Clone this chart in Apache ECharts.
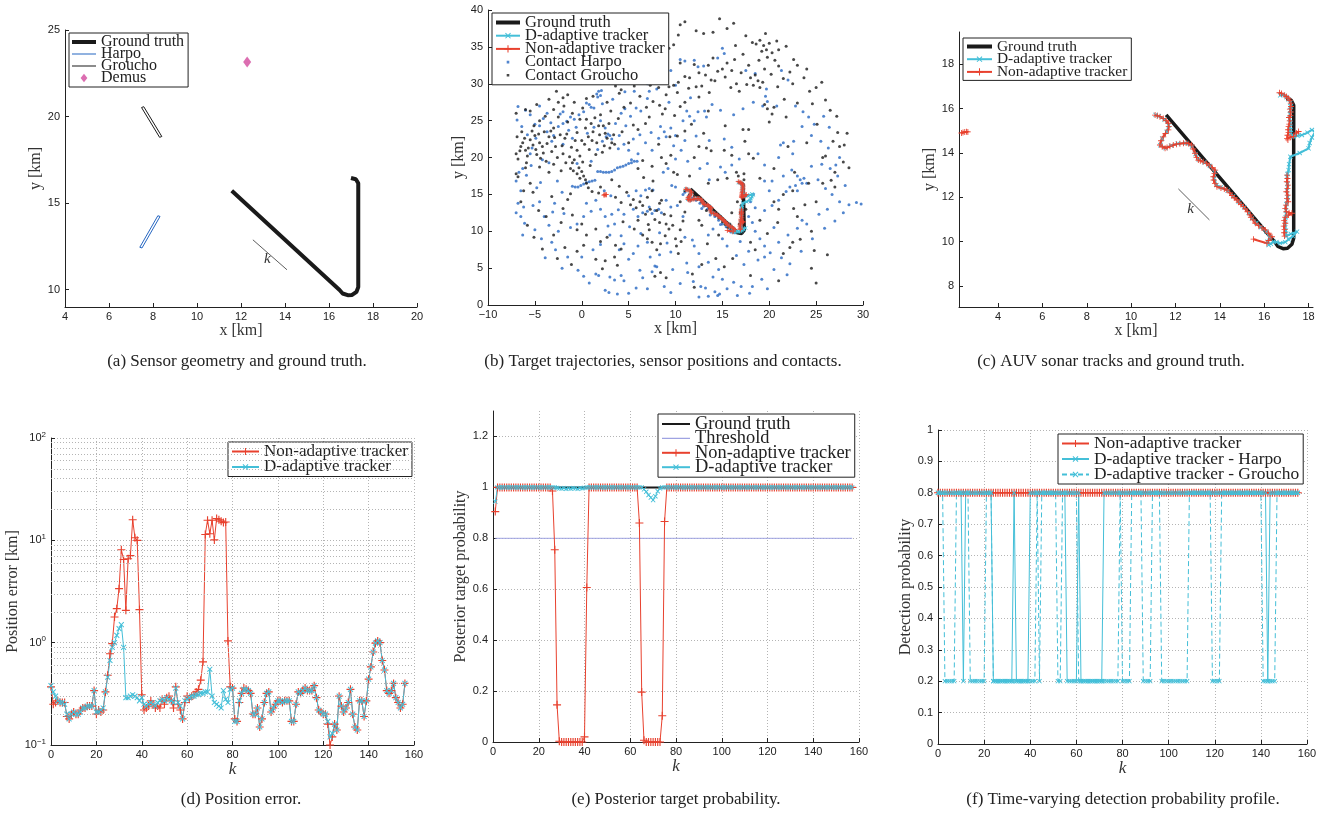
<!DOCTYPE html>
<html><head><meta charset="utf-8">
<script src="https://cdn.jsdelivr.net/npm/echarts@6/dist/echarts.min.js"></script>
<style>html,body{margin:0;padding:0;background:#fff}#c{width:1325px;height:815px}</style>
</head><body><div id="c"></div>
<script>
// ---------------- DATA ----------------
const captions = ['(a) Sensor geometry and ground truth.','(b) Target trajectories, sensor positions and contacts.','(c) AUV sonar tracks and ground truth.','(d) Position error.','(e) Posterior target probability.','(f) Time-varying detection probability profile.'];
const groundTruthTrack = [[17.0,16.45],[17.22,16.38],[17.33,16.15],[17.33,10.15],[17.25,9.88],[17.05,9.7],[16.85,9.68],[16.62,9.78],[16.48,9.98],[11.58,15.72]];
const harpoPath = [[7.4,12.45],[8.22,14.27],[8.32,14.23],[7.5,12.41],[7.4,12.45]];
const grouchoPath = [[7.48,20.52],[8.3,18.8],[8.4,18.85],[7.58,20.57],[7.48,20.52]];
const demusPos = [[12.28,23.15]];
const arrowA = [[14.09,11.15],[12.54,12.88]];
const kLabelA = [13.2,11.75];
const arrowC = [[13.53,10.98],[12.13,12.38]];
const kLabelC = [12.68,11.45];
const daTrack = [[16.72,16.6],[16.85,16.62],[17.0,16.52],[17.1,16.42],[17.18,16.28],[17.2,16.1],[17.18,15.94],[17.16,15.75],[17.15,15.55],[17.18,15.35],[17.16,15.18],[17.18,15.04],[17.2,14.9],[17.32,14.73],[17.5,14.78],[17.7,14.81],[17.95,14.92],[18.15,15.04],[18.3,14.96],[18.15,14.7],[18.05,14.45],[18.0,14.21],[17.6,14.0],[17.18,13.83],[17.12,13.5],[17.1,13.23],[17.05,13.05],[17.03,12.93],[17.05,12.6],[17.03,12.3],[17.06,12.0],[17.0,11.7],[16.98,11.4],[16.97,11.1],[16.95,10.8],[16.98,10.5],[17.0,10.25],[17.2,10.35],[17.48,10.45],[17.3,10.25],[17.1,10.1],[16.95,9.98],[16.72,9.93],[16.55,9.98],[16.42,10.0],[16.3,9.9],[16.2,9.85],[16.15,10.0],[16.25,10.2],[16.1,10.45],[15.85,10.65],[15.65,10.85],[15.45,11.05],[15.3,11.3],[15.1,11.55],[14.85,11.8],[14.6,12.05],[14.35,12.3],[14.05,12.45],[13.85,12.55],[13.75,12.85],[13.78,13.15],[13.55,13.42],[13.3,13.58],[13.05,13.7],[12.9,13.95],[12.75,14.3],[12.45,14.45],[12.1,14.42],[11.8,14.33],[11.55,14.22],[11.32,14.35],[11.4,14.65],[11.6,14.95],[11.7,15.25],[11.5,15.52],[11.25,15.66],[11.1,15.72]];
const naSeg1 = [[16.69,16.72],[16.78,16.68],[16.9,16.62],[17.0,16.55],[17.08,16.47],[17.15,16.38],[17.2,16.25],[17.21,16.1],[17.16,15.98],[17.2,15.85],[17.18,15.7],[17.12,15.6],[17.15,15.45],[17.13,15.3],[17.1,15.19],[17.08,15.05],[17.1,14.92],[17.05,14.8],[17.03,14.65],[17.07,14.59],[17.2,14.72],[17.32,14.75],[17.45,14.9],[17.55,14.97]];
const naSeg2 = [[17.03,13.0],[17.05,12.85],[17.02,12.7],[17.07,12.55],[17.05,12.4],[17.0,12.25],[17.06,12.1],[17.03,11.95],[17.08,11.8],[16.98,11.65],[16.95,11.5],[17.0,11.35],[17.12,11.3],[17.25,11.28],[17.1,11.2],[16.95,11.1],[16.9,10.95],[16.95,10.83],[16.88,10.7],[16.92,10.55],[16.9,10.4],[16.92,10.25]];
const naSeg3 = [[15.52,10.11],[16.12,9.93],[16.2,10.05],[16.35,10.22],[16.2,10.38],[16.05,10.53],[15.9,10.62],[15.75,10.72],[15.6,10.83],[15.5,10.98],[15.4,11.1],[15.37,11.2],[15.25,11.35],[15.15,11.48],[15.07,11.58],[14.95,11.68],[14.85,11.78],[14.77,11.88],[14.65,11.98],[14.55,12.08],[14.45,12.2],[14.32,12.33],[14.2,12.38],[14.05,12.42],[13.87,12.48],[13.78,12.62],[13.72,12.78],[13.71,12.93],[13.76,13.08],[13.79,13.23],[13.65,13.35],[13.52,13.45],[13.41,13.53],[13.25,13.6],[13.12,13.65],[13.03,13.68],[12.95,13.8],[12.88,13.99],[12.8,14.18],[12.73,14.36],[12.6,14.42],[12.48,14.45],[12.36,14.44],[12.2,14.42],[12.05,14.4],[11.9,14.36],[11.75,14.3],[11.62,14.25],[11.53,14.21],[11.4,14.28],[11.3,14.36],[11.35,14.55],[11.45,14.73],[11.55,14.88],[11.68,15.04],[11.7,15.2],[11.68,15.34],[11.58,15.46],[11.45,15.56],[11.3,15.64],[11.18,15.68],[11.08,15.71]];
const naSeg4 = [[2.35,14.9],[2.42,14.92],[2.5,14.95],[2.58,14.96],[2.64,14.95]];
const contactGroucho = [[9.3,29.6],[9.8,29.8],[10.3,30.2],[10.5,32.8],[11,31],[11.5,30.8],[12,32.6],[12.5,31.5],[12.2,29.6],[12.8,29.7],[13.2,31.2],[13.5,32.5],[13.8,30.5],[14,33.5],[14.5,31.7],[15,32],[15.3,30.9],[15.5,32.8],[16,31.8],[16.3,33.3],[16.5,30],[17,31.5],[17.2,34],[17.8,32.5],[18,30.8],[18.3,29.8],[18.5,31.2],[18.8,30.4],[19,29.5],[19.3,30.2],[19.5,32],[18.2,35.6],[18.6,35.4],[19,35.9],[19.4,35.2],[19.7,34.6],[20,35.5],[20.3,34.2],[19.8,33.6],[20.6,33.2],[21,34.6],[21,32.4],[21.5,30.7],[22.5,30],[23,32.5],[24,32],[25,29.5],[25.6,30.2],[24.3,29],[26.5,26.4],[27.2,25.6],[19.5,27.2],[19.8,26.6],[20.3,25.9],[20.5,26.8],[14.7,38.8],[15.5,37.5],[16.2,38.2],[14,37],[13,36.8],[12.2,37.2],[10.5,38],[11,38.4],[10.3,36.6],[9.3,34.8],[9.8,35.3],[8.5,33.4],[8.8,32],[7.8,32.2],[7,31.5],[6.5,32],[6,31.2],[8,30.5],[7.3,29.8],[8.2,29.5],[9,28.5],[10.2,28.8],[11,27.5],[5.6,29.7],[3.6,29.7],[4,28.7],[4.2,29.2],[3.2,30.8],[2,30.2],[13.5,26.3],[15.3,24.3],[17.2,23.8],[17.4,22.2],[16.7,17.5],[17.3,17.8],[18.3,19.9],[12.5,21.5],[13.8,20.9],[13.3,21.3],[15.2,21],[16,20.3],[-7,20.5],[-6.8,19.8],[-6.5,21.5],[-6.3,22],[-6,21],[-5.8,20.2],[-5.5,22.4],[-5.2,21.7],[-5,23],[-4.8,20.4],[-4.5,22],[-4.2,21.5],[-4,23.5],[-3.8,19.5],[-3.5,22.8],[-3.2,20.8],[-3,24],[-2.8,21.5],[-2.5,25.5],[-2.3,23.1],[-2,20.5],[-1.8,22.6],[-1.5,24.8],[-1.3,20.1],[-1,19.3],[-0.8,19.7],[-0.5,21],[-0.3,18.6],[0,18.1],[0.2,17.5],[0.4,17],[0.5,16.5],[-0.5,17.8],[-1.2,18.5],[-1.7,19.3],[-2.2,18.2],[-3.5,18],[-4.5,18.7],[-6,18.6],[-7,17.8],[-6.8,17.4],[-5.5,16.5],[-5.2,15.3],[-6.5,14],[-6.2,15.5],[-4.5,25],[-5.5,26.3],[-4.8,27.2],[-3.5,27.9],[-3,26.5],[-2,28.1],[-2.5,27.5],[-1,26],[0.5,25.2],[1,24.6],[1.2,23.5],[1.6,22],[1.8,24.3],[2,25.8],[2.3,24.3],[2.5,23.3],[2.7,22.6],[3,21.3],[3.2,22],[3.5,21.8],[2.2,20.7],[1.5,20.4],[0.8,21.1],[0,22.3],[-0.5,23.4],[-0.2,25.2],[0.4,24],[3.9,25.3],[4.3,23.5],[5,22],[5.5,24.4],[6,23.8],[6.8,24.6],[7.2,25.5],[7.6,27.6],[8.3,27.1],[8.6,25.9],[4.5,26.8],[3.1,26.3],[2.7,27.5],[1.2,28.3],[0.5,28],[-1.5,28.5],[-2.7,29],[-6,26.5],[-7,26],[5.5,14.3],[5.8,13.2],[6.2,14],[6.5,13.5],[7,14.6],[7.5,15.5],[7.3,13],[8,12.8],[8.3,13.8],[8.5,14.2],[8.8,12.3],[7.6,16.8],[6.6,17.3],[6,18.5],[6.5,19.6],[7.5,18.8],[8.5,20],[9,19.2],[9.5,20.3],[8.2,21.8],[9.8,18],[10.2,17.7],[4.8,15.3],[4.2,13.9],[3.6,14.6],[4,16.1],[3.2,17],[2,16],[1.8,15.2],[-1.5,14.3],[-2,13.1],[-1,12.2],[-0.5,10.2],[0,11],[0.5,9.5],[0.2,8.1],[-0.5,7.3],[-1.8,7.8],[-3,9.5],[-2.2,11.2],[-3.8,12],[1.5,10.3],[2,8.6],[2.7,9.2],[3.6,8.1],[4.2,7.6],[3.5,6.5],[2.5,6],[1.5,6.2],[6.5,9.5],[7,9],[7.2,10.2],[7.5,8.5],[8,7.5],[8.4,8.3],[9.3,10.3],[9.7,10.8],[10,9],[10.3,7],[10.1,8],[10.5,10.2],[9,11],[6,11.5],[5.6,10.3],[4.4,11.3],[8.4,4.4],[9,3.7],[7.8,3.9],[12.5,11.5],[12.8,10.8],[13.4,8.3],[12.8,5.5],[14.3,6.3],[14.6,9.5],[16,12.5],[17.5,13],[18,8.5],[18.5,7.5],[19,11.5],[20.5,14],[21.5,15],[22.5,15.5],[21,13],[24.5,10],[23,12],[22.5,8.5],[21.5,7],[22.2,7.8],[24.2,16.5],[25,14],[25.7,16.5],[26,20.2],[27,18],[27,16],[27.5,21.5],[28,21.7],[28.3,23.3],[25.7,20],[25.1,24.5],[24,22],[22.7,18],[22,21.5],[20.5,18.5],[19,17.2],[17.8,20.5],[20,24.8],[21.8,25.5],[17.8,23.8],[13,23.3],[11.7,24.5],[11,23.6],[10.2,22.9],[9.4,22.8],[12,20],[11.5,17.5],[13.5,16.5],[14.5,17],[15.5,17.2],[16.5,18],[17.3,17],[10.5,14],[11,12.6],[24.5,5],[25,3],[21,3.3],[18,4],[12,2.4],[11,15.5],[11.5,15],[12,14.8],[12.3,14.3],[12.8,14],[13.2,13.5],[13.6,13.2],[14,12.6],[14.3,12.2],[14.6,11.8],[15,11.3],[15.3,10.9],[15.6,10.5],[16,10.2],[16.5,10],[17,10.5],[17,11.5],[16.9,12.5],[17,13.5],[17.1,14.5],[17.2,15.5],[17.1,16.3],[12.5,14.7],[13.3,12.8],[14.8,12],[15.8,11],[16.8,11],[16.6,14],
[-6.6,20.9],[-6.1,22.6],[-5.7,21.3],[-5.3,23.6],[-4.9,21.1],[-4.6,23.2],[-4.1,20.6],[-3.7,21.9],[-3.3,23.6],[-2.9,22.7],[-2.6,20],[-2.1,21.6],[-1.6,23.2],[-1.1,21.4],[-0.7,22.3],[-0.2,20.2],[0.3,21.8],[0.7,22.8],[1.1,22.3],[1.9,23.1],[2.4,21.6],[2.9,24.6],[3.4,23.1],[-1.9,27],[-0.8,27.5],[0.1,26.7],[1.4,25.4],[-3.9,25.6],[-5.1,24.3],[-6.4,23.5],[-6.9,22.8],[-5.9,19.3],[-4.4,19.9],[-3,19.1],[-0.9,18.2],[0.1,19.4],[0.9,18.9],[-0.2,17.2],[0.7,15.9],[1.1,15.4],[5.2,13.6],[6.8,12.3],[7.8,11.6],[8.3,11.2],[9.5,12.1],[7.1,10.9],[8.9,9.4],[10.6,8.6],[10.8,11.4],[6.2,28.3],[5.2,27.4],[6.9,26.8],[8.9,26.6],[9.9,25.7],[10.5,26.9],[12.5,28.2],[11.4,29.4],[13.6,28.8],[14.2,30.4],[15.9,29.5],[16.8,29],[17.6,29.9],[16.4,35.2],[17.5,36.5],[19.6,36.8],[20.8,35.8],[21.8,35.1],[22.6,33.3],[22.2,31.6],[23.7,30.8],[20.2,31.3],[18.9,33.2],[19.2,34.4],[20.9,29.6],[21.6,27.9],[23,27.4],[24.6,27.3],[26,27.8],[27.3,23.4],[26.8,22.2],[27.9,19.4],[28.5,18.6],[26.6,16.9],[23.8,13.6],[22.6,13.1],[20.9,11.2],[19.8,9.7],[23.3,8.9],[24.8,7.4],[26.2,6.8],[16.1,6.3],[15.2,5.2],[11.8,4.2],[3.8,5.4],[2.2,4.9],[-1.1,5.5],[-2.6,6.3],[-4.2,7.6],[-5.1,9.2],[-5.8,10.8],[-4.6,12.8],[-3.2,14.7],[-1.2,15.1]];
const contactHarpo = [[-7,12.5],[-6.5,12],[-6.8,13.8],[-6.2,13.3],[-6.5,15.5],[-7,16.8],[-6.7,18],[-6.3,18.5],[-6.8,26.9],[-6,26.4],[-5.5,25.8],[-5,24.5],[-4.5,24.3],[-3.7,23.5],[-3,23],[-2.5,24.2],[-2,24.6],[-1.6,24.9],[-1.2,25.5],[-0.8,25.2],[-0.3,25.8],[0.2,26.2],[0.5,27.4],[0.8,27.2],[1,26.8],[1.3,26.7],[1.6,28.6],[1.7,28.2],[1.8,29],[2,28.4],[2.1,29.1],[-3.7,26],[-4.5,27],[-2,26.2],[-5.3,21.3],[-5.5,20.5],[-4.2,19.7],[-3.5,19.3],[-3.2,22.2],[-2,21.8],[-1,22.6],[-0.5,19.2],[1.7,21.1],[1,19.5],[2.2,22.2],[2.6,22.8],[2.8,23.2],[2.5,24],[3,23],[3.2,22.5],[4,23],[4.5,21.8],[5,21],[5.5,22.5],[4.2,26],[4.6,26.6],[5.8,26.7],[6.3,26.3],[7,28],[8.4,24.2],[8.8,23.5],[9,22.8],[9.5,24],[10,23],[10.8,25],[11.2,26.3],[11.5,25.6],[12,25],[12.4,26.2],[13.1,26.3],[13.3,25.5],[9.3,27.5],[8,29.3],[7,30],[6.5,31.5],[7.2,29],[8.8,31.3],[9.5,31.8],[10.5,33.3],[11,33.1],[12,33.2],[12.4,32.3],[13,32.4],[14.5,33.5],[15,34.8],[15.2,34.1],[17.5,31.8],[18.5,31.4],[19.6,28.3],[19.7,29.3],[19.8,27.6],[19.3,27],[21.3,31.8],[22,30.5],[24.2,25.5],[24.8,24.5],[25.5,22.2],[24.5,23],[23.5,24.2],[22.6,22.2],[22.5,20.5],[21.5,22],[21.2,21.7],[21,20],[19.5,19],[18.8,20.5],[19.5,16.8],[20.3,16.8],[21.5,17.5],[22.4,18.3],[23,17.5],[23.3,17],[23.7,17.2],[23.5,16.5],[22.8,16.2],[22.2,16],[21.8,15.4],[23,15.5],[24,16.5],[24.5,18.8],[25.2,17],[26,15.8],[26.7,15],[27.5,14],[28.5,13.6],[29.3,13.9],[29.8,13.7],[27.3,17.5],[27.5,20],[26.5,18.5],[26.2,13],[25.3,12.3],[23.5,11.5],[24,11],[23,10.4],[22,9.5],[21,8.5],[20.5,10.5],[19.5,8],[19,9],[18.5,10],[18.2,11.2],[19.5,12.8],[20.3,13.5],[21,14.2],[20,15.5],[18.3,15],[18,14],[18.5,13.2],[17.8,12],[16.5,6.7],[17.3,5.5],[19.5,6.5],[20.5,4.8],[19.2,3.5],[18.2,2.5],[17,2.5],[15.5,2.2],[14.5,1.3],[14.7,1.5],[14.2,1.8],[13.5,1.2],[13.2,2.3],[12.7,2.5],[12.5,1.1],[15,3.5],[14,3.8],[14.6,4.8],[13.5,5.8],[12.5,5.2],[11.3,4.4],[11.2,5.7],[9.7,4.8],[9.5,1.7],[8.8,2.5],[7.8,5.3],[8,5.2],[7.5,4.5],[6.5,3.7],[6.2,4.7],[5.8,2.3],[4.5,3.3],[4.2,4],[3.8,1.5],[3.5,3.4],[3,3.8],[2.5,2],[1.8,4],[1.5,4.2],[0.2,3.9],[4,7.5],[4.5,8.3],[5,6.2],[5.5,7],[6,8],[7,8.5],[7.3,6.5],[8.3,6.8],[9.5,7.2],[11,9.2],[11.8,8.8],[12,8],[12.5,7],[13.5,9.5],[14,10.3],[15,9],[15.5,8],[3,9.5],[2.8,10.7],[3.5,11],[3.2,12.3],[2.5,12],[2,13],[1.5,14.2],[0.5,13.8],[0.2,12],[-0.5,11],[-1.2,10.5],[-2.5,10],[-3.5,10.8],[-4,12],[-4.5,14],[-5.2,13.5],[-5,10.2],[-3.2,8.5],[-2.8,7.5],[-1.5,6.5],[0,6.5],[1.2,7.5],[2,8.2],[4.2,9.4],[6,12],[6.5,12.5],[7,12.7],[7.5,12.4],[7.8,12.8],[8.2,13],[8.5,12.5],[7.2,13.3],[6.8,15.6],[7.2,15.8],[7.6,15.6],[6.3,14.8],[5.8,15.5],[5,14.8],[4.5,12.3],[5.5,13],[9,14.2],[9.5,13.3],[10.2,13.5],[10.8,12],[10,16],[9.6,16.2],[9.2,18.5],[8.7,18],[11.3,19.5],[12.6,18.5],[13.6,17],[13.4,19.2],[14.8,18.7],[15.3,18],[16,19],[16.8,19.8],[16,21.4],[15.2,22.5],[13.6,22.3],[10.6,21],[10,19.8],[7.5,21],[6.8,22],[6,20.5],[5.3,19.7],[-1,16.1],[-0.7,16],[-0.4,16],[-0.1,16.2],[0.2,16.4],[0.5,16.6],[0.8,16.7],[1.1,16.8],[1.4,16.9],[1.7,18.1],[2,18.1],[2.3,18],[2.6,18],[2.9,18],[3.2,18.1],[3.5,18.3],[3.8,18.6],[4.1,18.7],[4.4,18.8],[4.7,19],[5,19.2],[5.3,19.3],[5.6,19.5],[5.9,19.5],[11,15.3],[11.4,14.8],[11.8,14.5],[12.2,14.2],[12.6,13.8],[13,13.4],[13.4,13],[13.8,12.5],[14.2,12],[14.6,11.5],[15,11],[15.4,10.6],[15.8,10.2],[16.2,10],[16.6,9.9],[17,10.2],[17.1,11],[17.2,12],[17.1,13],[17.2,14],[17.3,15],[17.2,16],[10.8,15],[11.6,14.2],[12.8,13.1],[13.7,12.2],[14.8,10.9],[16.3,9.8],
[-6.9,25.1],[-6.4,24.2],[-5.8,23.1],[-4.9,22.6],[-4.1,25.3],[-3.3,24.7],[-2.3,25.9],[-1.4,23.7],[-0.6,24.1],[0.6,23.3],[1.3,24.1],[2,25],[3.6,24.6],[3.9,21.2],[4.7,24.3],[5.2,25.6],[6.2,23.1],[7.4,23.4],[8.2,22.6],[9.8,21.6],[11,22.3],[12.2,22.9],[2.2,27.3],[3.3,27.9],[4.6,28.9],[5.6,29],[6.1,30.5],[10,29.8],[11.6,28.1],[13.9,27.2],[14.8,26.4],[16.2,25.8],[17.2,26.6],[18.3,27.5],[20.8,27],[22.8,27],[23.6,26.2],[25.8,25.6],[26.4,24.1],[26.3,21.3],[25.6,19.1],[27.1,19],[28.1,16.2],[27.9,12.5],[27,11.4],[25.9,10.4],[24.6,9],[23.4,7.3],[22.2,5.6],[21.3,6.4],[20.1,7.1],[18.8,6.1],[17.8,7.3],[16.9,8.6],[15.9,9.9],[9.1,8.4],[8.3,9.8],[6.3,9.7],[5.1,10.6],[3.9,12.9],[3.1,14.8],[2.4,15.5],[1,12.7],[-1.9,12.4],[-3.1,12.6],[-4.8,15.9],[-5.9,17.6],[-5.4,18.9],[-4.4,16.6],[-2.6,16.8],[-2.1,15.3],[-2.9,13.8],[-6.1,11.1],[-6.3,9.5],[-4.3,9],[-3.9,6.4],[-2.1,5],[-0.4,4.7],[0.8,3],[2.9,1.7],[5,1.6],[7,2.2],[10.5,2.9],[11.9,3.2],[16.2,3.1],[17.9,1.6],[16.6,1.3],[19.8,2.2],[21.9,4.1]];
// (d) position error, k = 0..156
const errNonAdaptive = [0.37,0.25,0.26,0.27,0.26,0.26,0.26,0.19,0.18,0.2,0.21,0.2,0.2,0.22,0.23,0.23,0.24,0.24,0.24,0.34,0.2,0.22,0.21,0.22,0.33,0.48,0.78,0.98,1.78,2.15,3.37,8.1,6.5,2.07,6.6,7.1,15.9,10.6,10.0,2.1,0.31,0.22,0.23,0.24,0.27,0.25,0.23,0.24,0.23,0.28,0.25,0.29,0.3,0.27,0.23,0.37,0.25,0.22,0.18,0.26,0.3,0.28,0.3,0.31,0.33,0.35,0.43,0.65,11.4,15.7,11.6,15.7,10.1,16.3,15.9,15.4,14.9,15.1,1.04,0.37,0.36,0.18,0.17,0.26,0.32,0.36,0.35,0.34,0.32,0.2,0.2,0.23,0.15,0.18,0.26,0.32,0.33,0.21,0.23,0.25,0.27,0.27,0.26,0.27,0.27,0.27,0.17,0.17,0.25,0.33,0.32,0.34,0.36,0.34,0.34,0.34,0.38,0.29,0.22,0.21,0.2,0.2,0.16,0.1,0.12,0.16,0.14,0.3,0.24,0.21,0.23,0.26,0.35,0.2,0.15,0.14,0.27,0.27,0.19,0.27,0.44,0.58,0.81,0.99,1.04,1.0,0.67,0.54,0.34,0.32,0.34,0.4,0.29,0.26,0.23,0.25,0.4];
const errDAdaptive = [0.38,0.33,0.3,0.27,0.26,0.26,0.25,0.2,0.18,0.2,0.21,0.2,0.2,0.21,0.23,0.23,0.24,0.24,0.24,0.34,0.21,0.21,0.22,0.23,0.33,0.46,0.67,0.9,1.0,1.18,1.37,1.5,0.9,0.29,0.29,0.3,0.31,0.3,0.29,0.27,0.29,0.25,0.24,0.25,0.26,0.25,0.24,0.26,0.27,0.28,0.27,0.29,0.28,0.27,0.26,0.36,0.26,0.24,0.18,0.27,0.28,0.29,0.3,0.3,0.31,0.31,0.32,0.32,0.33,0.33,0.55,0.3,0.26,0.25,0.24,0.23,0.34,0.28,0.26,0.35,0.36,0.17,0.17,0.27,0.32,0.35,0.35,0.34,0.32,0.2,0.2,0.23,0.15,0.18,0.26,0.32,0.33,0.21,0.23,0.25,0.27,0.27,0.26,0.27,0.27,0.27,0.17,0.17,0.25,0.33,0.32,0.34,0.36,0.34,0.34,0.34,0.38,0.29,0.22,0.21,0.2,0.2,0.17,0.12,0.13,0.16,0.14,0.3,0.24,0.21,0.23,0.26,0.35,0.2,0.15,0.14,0.27,0.27,0.19,0.27,0.44,0.58,0.81,0.99,1.04,1.0,0.67,0.54,0.34,0.32,0.34,0.4,0.29,0.26,0.23,0.25,0.4];
const logMinorGrid = [0.2,0.3,0.4,0.5,0.6,0.7,0.8,0.9,2,3,4,5,6,7,8,9,20,30,40,50,60,70,80,90];
// (e) posterior target probability, k = 1..157
const probNonAdaptive = [0.905,1,1,1,1,1,1,1,1,1, 1,1,1,1,1,1,1,1,1,1, 1,1,1,1,1,0.986,0.755,0.146,0.003,0, 0,0,0,0,0,0,0,0,0,0.02, 0.607,1,1,1,1,1,1,1,1,1, 1,1,1,1,1,1,1,1,1,1, 1,1,1,0.86,0.196,0.007,0,0,0,0, 0,0,0,0.103,0.866,1,1,1,1,1, 1,1,1,1,1,1,1,1,1,1, 1,1,1,1,1,1,1,1,1,1, 1,1,1,1,1,1,1,1,1,1, 1,1,1,1,1,1,1,1,1,1, 1,1,1,1,1,1,1,1,1,1, 1,1,1,1,1,1,1,1,1,1, 1,1,1,1,1,1,1,1,1,1, 1,1,1,1,1,1,1];
const probDAdaptive = [0.944,1,1,1,1,1,1,1,1,1, 1,1,1,1,1,1,1,1,1,1, 1,1,1,1,1,1,1,0.998,0.996,0.995, 0.997,0.994,0.996,0.995,0.997,0.996,0.994,0.997,0.996,0.998, 1,1,1,1,1,1,1,1,1,1, 1,1,1,1,1,1,1,1,1,1, 1,1,1,1,1,0.992,0.983,0.97,0.96,0.95, 0.965,0.985,0.996,1,1,1,1,1,1,1, 1,1,1,1,1,1,1,1,1,1, 1,1,1,1,1,1,1,1,1,1, 1,1,1,1,1,1,1,1,1,1, 1,1,1,1,1,1,1,1,1,1, 1,1,1,1,1,1,1,1,1,1, 1,1,1,1,1,1,1,1,1,1, 1,1,1,1,1,1,1,1,1,1, 1,1,1,1,1,1,1];
const probGroundTruthK = [1,157], probGroundTruth = [1,1];
const thresholdK = [1,157], threshold = [0.8,0.8];
// (f) detection probability, k = 0..156
const detNonAdaptive = [.8,.8,.8,.8,.8,.8,.8,.8,.8,.8, .8,.8,.8,.8,.8,.8,.8,.8,.8,.8, .8,.8,.8,.8,.8,.8,.8,.8,.8,.8, .8,.8,.8,.8,.8,.8,.8,.8,.8,.8, .8,.8,.8,.8,.8,.8,.8,.8,.8,.8, .8,.8,.8,.8,.8,.8,.8,.8,.8,.8, .8,.8,.8,.8,.8,.8,.8,.8,.8,.8, .8,.8,.8,.8,.8,.8,.8,.8,.8,.8, .8,.8,.8,.8,.8,.8,.8,.8,.8,.8, .8,.8,.8,.8,.8,.8,.8,.8,.8,.8, .8,.8,.8,.8,.8,.8,.8,.8,.8,.8, .8,.8,.8,.8,.8,.8,.8,.8,.8,.8, .8,.8,.8,.8,.8,.8,.8,.8,.8,.8, .8,.8,.8,.8,.8,.8,.8,.8,.8,.8, .8,.8,.8,.8,.8,.8,.8,.8,.8,.8, .8,.8,.8,.8,.8,.8,.8];
const detHarpo = [.8,.8,.8,.8,.8,.8,.8,.8,.8,.8, .8,.2,.8,.8,.8,.8,.8,.8,.8,.8, .8,.8,.8,.8,.2,.2,.2,.2,.2,.2, .2,.2,.2,.8,.2,.2,.2,.2,.2,.2, .8,.8,.8,.8,.8,.8,.8,.8,.8,.8, .8,.8,.8,.8,.8,.8,.2,.2,.2,.2, .2,.8,.2,.2,.2,.2,.2,.2,.2,.2, .2,.2,.8,.8,.8,.8,.8,.8,.8,.8, .8,.8,.8,.8,.8,.8,.8,.8,.8,.8, .8,.8,.8,.8,.8,.8,.8,.8,.8,.8, .8,.8,.8,.8,.8,.8,.8,.8,.8,.8, .8,.8,.8,.8,.8,.8,.8,.8,.8,.8, .8,.8,.8,.8,.8,.8,.8,.8,.8,.8, .8,.8,.8,.8,.8,.8,.8,.8,.8,.8, .8,.8,.8,.2,.8,.8,.8,.8,.8,.8, .8,.8,.8,.8,.8,.8,.8];
const detGroucho = [.8,.8,.8,.2,.2,.2,.2,.2,.8,.8, .8,.8,.8,.8,.2,.2,.2,.2,.2,.2, .2,.8,.8,.8,.2,.2,.2,.2,.2,.2, .2,.2,.2,.2,.2,.2,.2,.2,.2,.2, .2,.2,.2,.8,.2,.8,.8,.8,.8,.8, .8,.8,.2,.2,.8,.8,.8,.8,.8,.8, .8,.2,.2,.2,.2,.2,.2,.2,.2,.2, .2,.2,.2,.2,.2,.2,.2,.2,.2,.8, .2,.2,.2,.2,.8,.8,.8,.8,.8,.2, .2,.2,.2,.8,.8,.8,.8,.2,.2,.2, .2,.2,.2,.2,.2,.2,.2,.2,.2,.8, .8,.8,.8,.8,.8,.8,.8,.8,.8,.2, .2,.2,.2,.8,.8,.8,.8,.8,.8,.8, .8,.8,.8,.8,.8,.8,.8,.8,.8,.8, .8,.2,.2,.2,.2,.2,.2,.8,.8,.8, .8,.8,.8,.8,.8,.8,.8];

// ---------------- STYLE / LAYOUT ----------------
const SERIF = '"Liberation Serif","Times New Roman",serif';
const SANS = '"Liberation Sans",Arial,sans-serif';
const RED = '#e8412e', CYAN = '#44bfd8', BLUE = '#2566c2', BLACK = '#1a1a1a', MAG = '#d34a9d', THR = '#9fa3e2';
const PLUS = 'path://M6,0H8V6H14V8H8V14H6V8H0V6H6Z';
const GRIDC = '#b4b4b4';
const IH = 9;
const lineIcon = (w, lw) => 'path://M0,0L0.01,0M' + w + ',' + IH + 'L' + (w - 0.01) + ',' + IH + 'M0,' + (IH / 2 - lw / 2) + 'H' + w + 'V' + (IH / 2 + lw / 2) + 'H0Z';
const dotIcon = (w, s) => 'path://M0,0L0.01,0M' + w + ',' + IH + 'L' + (w - 0.01) + ',' + IH + 'M' + (w / 2 - s / 2) + ',' + (IH / 2 - s / 2) + 'h' + s + 'v' + s + 'h' + (-s) + 'Z';
const diamondIcon = w => 'path://M0,0L0.01,0M' + w + ',' + IH + 'L' + (w - 0.01) + ',' + IH + 'M' + (w / 2) + ',0.2L' + (w / 2 + 3.4) + ',4.5L' + (w / 2) + ',8.8L' + (w / 2 - 3.4) + ',4.5Z';

const kD = errNonAdaptive.map((v,i)=>i);
const kE = probNonAdaptive.map((v,i)=>i+1);
const kF = detNonAdaptive.map((v,i)=>i);
const zip = (xs, ys) => ys.map((v,i)=>[xs[i], v]);
const minus = v => (v < 0 ? '\u2212' + (-v) : '' + v);

const grids = [
  {left:65, top:30, width:352, height:277},
  {left:488, top:10, width:375, height:295},
  {left:959, top:32, width:354, height:275},
  {left:51, top:438, width:363, height:307},
  {left:493, top:411, width:366, height:331},
  {left:938, top:430, width:369, height:314}
].map(g => Object.assign({containLabel:false, outerBoundsMode:'none'}, g));

function axis(gi, o) {
  const a = {
    type: o.type || 'value', gridIndex: gi, min: o.min, max: o.max, name: o.name || '',
    nameLocation: 'middle', nameGap: o.nameGap || 14,
    nameTextStyle: Object.assign({fontFamily: SERIF, fontSize: 16, color: '#333'}, o.nameStyle || {}),
    axisLine: {show: true, onZero: false, lineStyle: {color: '#222', width: 1}},
    axisTick: {show: true, inside: true, length: 4, lineStyle: {color: '#222', width: 1}},
    axisLabel: {color: '#222', fontFamily: SANS, fontSize: 11, margin: 5, hideOverlap: false, showMinLabel: true, showMaxLabel: true},
    splitLine: {show: !!o.grid, lineStyle: {color: GRIDC, type: [1, 2], width: 1}},
    minorTick: {show: false}, minorSplitLine: {show: false}
  };
  if (o.interval !== undefined) a.interval = o.interval;
  if (o.logBase) a.logBase = o.logBase;
  if (o.custom) { a.axisTick.customValues = o.custom; a.axisLabel.customValues = o.custom; }
  if (o.formatter) a.axisLabel.formatter = o.formatter;
  if (o.rich) a.axisLabel.rich = o.rich;
  if (o.margin !== undefined) a.axisLabel.margin = o.margin;
  return a;
}
const kName = {fontFamily: SERIF, fontStyle: 'italic', fontSize: 17, color: '#333'};

const xAxes = [
  axis(0, {min:4, max:20, interval:2, name:'x [km]', nameGap:13, margin:4}),
  axis(1, {min:-10, max:30, interval:5, name:'x [km]', nameGap:14, formatter:minus, margin:4}),
  axis(2, {min:2.24, max:18.2, custom:[4,6,8,10,12,14,16,18], name:'x [km]', nameGap:15, margin:4}),
  axis(3, {min:0, max:160, interval:20, name:'k', nameGap:12, nameStyle:kName, grid:true, margin:4}),
  axis(4, {min:0, max:160, interval:20, name:'k', nameGap:14, nameStyle:kName, grid:true, margin:4}),
  axis(5, {min:0, max:160, interval:20, name:'k', nameGap:13, nameStyle:kName, grid:true, margin:4})
];
const yAxes = [
  axis(0, {min:9, max:25, custom:[10,15,20,25], name:'y [km]', nameGap:12}),
  axis(1, {min:0, max:40, interval:5, name:'y [km]', nameGap:14}),
  axis(2, {min:7.05, max:19.46, custom:[8,10,12,14,16,18], name:'y [km]', nameGap:11}),
  axis(3, {type:'log', logBase:10, min:0.1, max:100, name:'Position error [km]', nameGap:24, grid:true,
    formatter: v => { const e = Math.round(Math.log10(v)); return '10{s|' + (e < 0 ? '\u2212' + (-e) : e) + '}'; },
    rich: {s: {fontSize: 8, fontFamily: SANS, color: '#222', verticalAlign: 'bottom', padding: [0, 0, 7, 0]}}}),
  axis(4, {min:0, max:1.3, interval:0.2, custom:[0,0.2,0.4,0.6,0.8,1,1.2], name:'Posterior target probability', nameGap:22, grid:true}),
  axis(5, {min:0, max:1, interval:0.1, name:'Detection probability', nameGap:19, grid:true})
];

function line(name, data, gi, color, width, extra) {
  return Object.assign({
    type: 'line', name: name, data: data, xAxisIndex: gi, yAxisIndex: gi,
    symbol: 'none', showSymbol: true, lineStyle: {color: color, width: width},
    itemStyle: {color: color}, animation: false, silent: true, emphasis: {disabled: true}
  }, extra || {});
}
const mk = (sym, rot, size, color) => ({symbol: sym, symbolRotate: rot, symbolSize: size, itemStyle: {color: color}});

const series = [];
// (a)
series.push(line('Ground truth#a', groundTruthTrack, 0, BLACK, 4));
series.push(line('Harpo#a', harpoPath, 0, BLUE, 1));
series.push(line('Groucho#a', grouchoPath, 0, BLACK, 1));
series.push({type:'scatter', name:'Demus#a', data:demusPos, xAxisIndex:0, yAxisIndex:0, symbol:'diamond', symbolSize:[8,11],
  itemStyle:{color:MAG}, animation:false, silent:true,
  markLine:{silent:true, animation:false, symbol:['none','arrow'], symbolSize:[0,8], label:{show:false},
    lineStyle:{color:'#333', width:0.8, type:'solid'}, data:[[{coord:arrowA[0]},{coord:arrowA[1]}]]},
  markPoint:{silent:true, animation:false, symbol:'circle', symbolSize:1, itemStyle:{color:'rgba(0,0,0,0)'},
    label:{show:true, position:'inside', formatter:'k', fontFamily:SERIF, fontStyle:'italic', fontSize:15, color:'#333'},
    data:[{coord:kLabelA}]}});
// (b)
series.push(line('Ground truth#b', groundTruthTrack, 1, BLACK, 3.5));
series.push(line('D-adaptive tracker#b', daTrack, 1, CYAN, 2, mk(PLUS, 45, 5, CYAN)));
[naSeg1, naSeg2, naSeg3, naSeg4].forEach(s => series.push(line('Non-adaptive tracker#b', s, 1, RED, 2, mk(PLUS, 0, 5, RED))));
series.push({type:'scatter', name:'Contact Harpo#b', data:contactHarpo, xAxisIndex:1, yAxisIndex:1, symbol:'circle', symbolSize:3, itemStyle:{color:BLUE}, animation:false, silent:true});
series.push({type:'scatter', name:'Contact Groucho#b', data:contactGroucho, xAxisIndex:1, yAxisIndex:1, symbol:'circle', symbolSize:3, itemStyle:{color:BLACK}, animation:false, silent:true});
// (c)
series.push(line('Ground truth#c', groundTruthTrack, 2, BLACK, 3.5, {
  markLine:{silent:true, animation:false, symbol:['none','arrow'], symbolSize:[0,8], label:{show:false},
    lineStyle:{color:'#333', width:0.8, type:'solid'}, data:[[{coord:arrowC[0]},{coord:arrowC[1]}]]},
  markPoint:{silent:true, animation:false, symbol:'circle', symbolSize:1, itemStyle:{color:'rgba(0,0,0,0)'},
    label:{show:true, position:'inside', formatter:'k', fontFamily:SERIF, fontStyle:'italic', fontSize:15, color:'#333'},
    data:[{coord:kLabelC}]}}));
series.push(line('D-adaptive tracker#c', daTrack, 2, CYAN, 2, mk(PLUS, 45, 6, CYAN)));
[naSeg1, naSeg2, naSeg3, naSeg4].forEach(s => series.push(line('Non-adaptive tracker#c', s, 2, RED, 2, mk(PLUS, 0, 6, RED))));
// (d)
series.push(line('Non-adaptive tracker#d', zip(kD, errNonAdaptive), 3, RED, 1, mk(PLUS, 0, 8, RED)));
series.push(line('D-adaptive tracker#d', zip(kD, errDAdaptive), 3, CYAN, 1, Object.assign(mk(PLUS, 45, 7, CYAN), {
  markLine:{silent:true, animation:false, symbol:['none','none'], label:{show:false},
    lineStyle:{color:GRIDC, width:1, type:[1,2]}, data: logMinorGrid.map(v => ({yAxis: v}))}})));
// (e)
series.push(line('Ground truth#e', zip(probGroundTruthK, probGroundTruth), 4, BLACK, 2));
series.push(line('Threshold#e', zip(thresholdK, threshold), 4, THR, 1));
series.push(line('Non-adaptive tracker#e', zip(kE, probNonAdaptive), 4, RED, 1, mk(PLUS, 0, 8, RED)));
series.push(line('D-adaptive tracker#e', zip(kE, probDAdaptive), 4, CYAN, 1, mk(PLUS, 45, 6, CYAN)));
// (f)
series.push(line('Non-adaptive tracker#f', zip(kF, detNonAdaptive), 5, RED, 1, mk(PLUS, 0, 8, RED)));
series.push(line('D-adaptive tracker - Harpo#f', zip(kF, detHarpo), 5, CYAN, 1, mk(PLUS, 45, 6, CYAN)));
series.push(line('D-adaptive tracker - Groucho#f', zip(kF, detGroucho), 5, CYAN, 1, Object.assign(mk(PLUS, 45, 6, CYAN), {lineStyle:{color:CYAN, width:1, type:[5,3]}})));

function legend(data, left, top, fontSize, gap, iw) {
  return {
    data: data, orient: 'vertical', left: left, top: top, itemGap: gap, itemWidth: iw, itemHeight: IH,
    padding: [1, 4, 1, 3], backgroundColor: '#fff', borderColor: '#222', borderWidth: 1, borderRadius: 0,
    selectedMode: false, animation: false,
    textStyle: {fontFamily: SERIF, fontSize: fontSize, color: '#222'},
    formatter: n => n.split('#')[0]
  };
}
const L = (name, icon, color) => ({name: name, icon: icon, itemStyle: {color: color, borderWidth: 0}});
const legends = [
  legend([L('Ground truth#a', lineIcon(24, 4), BLACK), L('Harpo#a', lineIcon(24, 1.2), BLUE), L('Groucho#a', lineIcon(24, 1.2), BLACK), L('Demus#a', diamondIcon(24), MAG)], 69, 33, 16, -4, 24),
  legend([L('Ground truth#b', lineIcon(24, 4), BLACK), 'D-adaptive tracker#b', 'Non-adaptive tracker#b',
    L('Contact Harpo#b', dotIcon(24, 2.6), BLUE), L('Contact Groucho#b', dotIcon(24, 2.6), BLACK)], 492, 13, 16.5, -3.8, 24),
  legend([L('Ground truth#c', lineIcon(25, 4), BLACK), 'D-adaptive tracker#c', 'Non-adaptive tracker#c'], 963, 38, 15.4, -2.3, 25),
  legend(['Non-adaptive tracker#d', 'D-adaptive tracker#d'], 228, 442, 17, -1.5, 27),
  legend([L('Ground truth#e', lineIcon(28, 2.2), BLACK), L('Threshold#e', lineIcon(28, 1.2), THR), 'Non-adaptive tracker#e', 'D-adaptive tracker#e'], 658, 414, 18.4, -3.6, 28),
  legend(['Non-adaptive tracker#f', 'D-adaptive tracker - Harpo#f', 'D-adaptive tracker - Groucho#f'], 1058, 434, 17.4, -1.5, 27)
];

const capPos = [[237,362],[663,362],[1111,362],[241,800],[676,800],[1123,800]];
const graphic = captions.map((t, i) => ({
  type: 'text', x: capPos[i][0], y: capPos[i][1], silent: true,
  style: {text: t, font: '17px ' + SERIF, fill: '#222', align: 'center', verticalAlign: 'middle', textAlign: 'center', textVerticalAlign: 'middle'}
}));

const chart = echarts.init(document.getElementById('c'), null, {renderer: 'canvas'});
chart.setOption({
  animation: false, backgroundColor: '#fff',
  textStyle: {fontFamily: SANS},
  grid: grids, xAxis: xAxes, yAxis: yAxes, legend: legends, series: series, graphic: graphic
});
</script></body></html>
